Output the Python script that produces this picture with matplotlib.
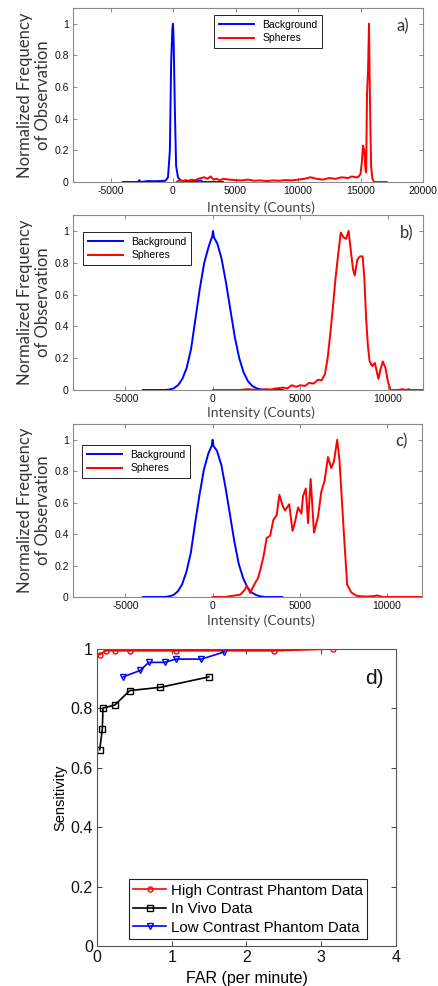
import matplotlib
matplotlib.use("Agg")
import matplotlib.pyplot as plt

# ---------------- data ----------------
# Panel a
bg_a_x = [-4000, -2800, -2700, -2600, -2200, -2000, -1500, -1000, -600, -400, -250, -150, -50, 0,
          50, 150, 250, 400, 600, 1000, 1500, 2000, 2200, 2400, 3000, 4000]
bg_a_y = [0, 0, 0.012, 0, 0.004, 0.006, 0.005, 0.006, 0.008, 0.03, 0.2, 0.75, 0.97, 1.0,
          0.9, 0.45, 0.1, 0.03, 0.01, 0.004, 0.003, 0.006, 0.01, 0, 0, 0]
sp_a_x = [300, 500, 750, 1000, 1250, 1500, 1750, 2000, 2250, 2500, 2750, 3000, 3250, 3500, 3750,
          4000, 4500, 5000, 5500, 6000, 6500, 7000, 7500, 8000, 8500, 9000, 9500, 10000, 10500,
          11000, 11500, 12000, 12500, 13000, 13500, 14000, 14300, 14600, 14800, 15000, 15100,
          15200, 15300, 15400, 15450, 15520, 15600, 15680, 15760, 15850, 15950, 16100, 17100]
sp_a_y = [0, 0.01, 0.005, 0.012, 0.008, 0.015, 0.01, 0.02, 0.025, 0.03, 0.02, 0.035, 0.015, 0.02,
          0.01, 0.02, 0.015, 0.012, 0.01, 0.015, 0.008, 0.01, 0.006, 0.01, 0.008, 0.012, 0.01,
          0.015, 0.02, 0.03, 0.02, 0.015, 0.025, 0.02, 0.03, 0.025, 0.035, 0.03, 0.03, 0.05, 0.12,
          0.23, 0.2, 0.08, 0.06, 0.55, 0.7, 1.0, 0.5, 0.1, 0.02, 0, 0]

# Panel b
bg_b_x = [-4000, -2750, -2500, -2250, -2000, -1750, -1500, -1250, -1000, -750, -500, -250, -100,
          -50, 0, 50, 250, 500, 750, 1000, 1250, 1500, 1750, 2000, 2250, 2500, 2750, 3000, 4000]
bg_b_y = [0, 0, 0.003, 0.01, 0.03, 0.07, 0.14, 0.26, 0.45, 0.64, 0.8, 0.9, 0.95,
          0.96, 1.0, 0.96, 0.92, 0.82, 0.67, 0.5, 0.33, 0.2, 0.11, 0.055, 0.025, 0.01, 0.003, 0, 0]
sp_b_x = [0, 1500, 2000, 2500, 3000, 3300, 3600, 4000, 4250, 4500, 4750, 5000, 5250, 5500, 5750,
          6000, 6200, 6400, 6550, 6700, 6850, 7000, 7150, 7300, 7450, 7600, 7750, 7850, 8000,
          8100, 8250, 8400, 8550, 8650, 8750, 8850, 8950, 9100, 9250, 9350, 9450, 9550, 9700,
          9850, 10000, 10150, 10600, 10800, 11000, 11200, 11300, 12000]
sp_b_y = [0, 0, 0.005, 0, 0.005, 0.003, 0.01, 0.015, 0.01, 0.03, 0.02, 0.03, 0.025, 0.045, 0.04,
          0.065, 0.06, 0.1, 0.2, 0.35, 0.52, 0.7, 0.85, 0.99, 0.96, 0.95, 1.0, 0.9, 0.76,
          0.72, 0.82, 0.84, 0.84, 0.7, 0.45, 0.28, 0.18, 0.15, 0.17, 0.12, 0.07, 0.12, 0.18,
          0.14, 0.05, 0, 0, 0.005, 0, 0.005, 0, 0]

# Panel c
bg_c_x = [-4000, -2750, -2500, -2250, -2000, -1750, -1500, -1250, -1000, -750, -500, -250, -100,
          -50, 0, 50, 250, 500, 750, 1000, 1250, 1500, 1750, 2000, 2250, 2500, 2750, 3000, 4000]
bg_c_y = [0, 0, 0.004, 0.012, 0.035, 0.08, 0.16, 0.28, 0.47, 0.65, 0.81, 0.91, 0.95,
          0.96, 1.0, 0.96, 0.93, 0.84, 0.69, 0.52, 0.35, 0.21, 0.12, 0.06, 0.028, 0.012, 0.004, 0, 0]
sp_c_x = [0, 700, 1000, 1300, 1590, 1800, 1970, 2160, 2300, 2440, 2600, 2730, 2920, 3100, 3300,
          3480, 3670, 3830, 4015, 4150, 4390, 4580, 4710, 4900, 5090, 5180, 5340, 5470, 5620,
          5810, 6040, 6230, 6420, 6610, 6800, 6950, 7140, 7270, 7520, 7710, 7940, 8200, 8410,
          8800, 9170, 9450, 9740, 12000]
sp_c_y = [0, 0, 0.005, 0.01, 0.015, 0.04, 0.07, 0.025, 0.06, 0.09, 0.12, 0.17, 0.26, 0.375, 0.39,
          0.49, 0.52, 0.65, 0.58, 0.55, 0.59, 0.42, 0.47, 0.57, 0.53, 0.64, 0.69, 0.47, 0.75,
          0.41, 0.51, 0.67, 0.74, 0.89, 0.82, 0.86, 1.0, 0.87, 0.41, 0.08, 0.03, 0.01, 0.005,
          0.003, 0.005, 0.01, 0, 0]

# Panel d
high_far = [0.036, 0.116, 0.237, 0.44, 1.06, 2.37, 3.16]
high_sens = [0.981, 0.994, 0.994, 0.994, 0.994, 0.994, 1.0]
vivo_far = [0.036, 0.071, 0.080, 0.237, 0.4375, 0.848, 1.496]
vivo_sens = [0.661, 0.730, 0.801, 0.811, 0.860, 0.871, 0.906]
low_far = [0.348, 0.58, 0.692, 0.906, 1.054, 1.397, 1.70]
low_sens = [0.906, 0.928, 0.955, 0.955, 0.966, 0.966, 0.990]

hist_xticks = [-5000, 0, 5000, 10000, 15000, 20000]
yticks_hist = [0, 0.2, 0.4, 0.6, 0.8, 1]
far_ticks = [0, 1, 2, 3, 4]
sens_ticks = [0, 0.2, 0.4, 0.6, 0.8, 1]
series_labels = ["Background", "Spheres"]
roc_labels = ["High Contrast Phantom Data", "In Vivo Data", "Low Contrast Phantom Data"]

# ---------------- figure ----------------
W, H = 439, 986
fig = plt.figure(figsize=(W / 100, H / 100), dpi=100)

def rect(l, t, r, b):
    return [l / W, (H - b) / H, (r - l) / W, (b - t) / H]

CAL = ["Lato", "DejaVu Sans"]
ARI = ["Liberation Sans", "DejaVu Sans"]
SPINE = "#8a8a8a"
TXT = "#333333"

def fmt(v):
    return "%g" % v

def style(ax, xt, yt, xlim, ylim, fs):
    ax.set_xlim(*xlim)
    ax.set_ylim(*ylim)
    ax.set_xticks(xt)
    ax.set_xticklabels([fmt(v) for v in xt], family=ARI, fontsize=fs)
    ax.set_yticks(yt)
    ax.set_yticklabels([fmt(v) for v in yt], family=ARI, fontsize=fs)
    ax.tick_params(direction="in", top=True, right=True, length=3, width=0.7, color=SPINE,
                   labelcolor="#111111", pad=3)
    for s in ax.spines.values():
        s.set_color(SPINE)
        s.set_linewidth(0.8)

panels = [
    (rect(73, 8, 423, 182), bg_a_x, bg_a_y, sp_a_x, sp_a_y, (-8000, 20000), hist_xticks,
     "a)", (403, 26), (214, 15), 208),
    (rect(73, 215, 423, 390), bg_b_x, bg_b_y, sp_b_x, sp_b_y, (-8000, 12000), hist_xticks[:4],
     "b)", (407, 233), (83, 232), 413),
    (rect(73, 424, 422, 597), bg_c_x, bg_c_y, sp_c_x, sp_c_y, (-8000, 12000), hist_xticks[:4],
     "c)", (401, 441), (82, 445), 621),
]

for (r, bx, by, sx, sy, xl, xt, lab, lpos, legpos, xlab_y) in panels:
    ax = fig.add_axes(r)
    ax.plot(bx, by, color="#0000ff", lw=1.4, label=series_labels[0])
    ax.plot(sx, sy, color="#ff0000", lw=1.4, label=series_labels[1])
    style(ax, xt, yticks_hist, xl, (0, 1.1), 7.5)
    leg = ax.legend(loc="upper left", bbox_to_anchor=(legpos[0] / W, 1 - legpos[1] / H),
                    bbox_transform=fig.transFigure, borderaxespad=0, fancybox=False,
                    framealpha=1, edgecolor="#222222", prop={"family": ARI, "size": 7.5},
                    handlelength=3.4, labelspacing=0.35, borderpad=0.45, handletextpad=0.8)
    leg.get_frame().set_linewidth(0.7)
    fig.text(lpos[0] / W, 1 - lpos[1] / H, lab, ha="center", va="center", family=CAL,
             fontsize=12, color=TXT)
    fig.text(261 / W, 1 - xlab_y / H, "Intensity (Counts)", ha="center", va="center",
             family=CAL, fontsize=10, color="#444444")
    yc = (r[1] + r[3] / 2)
    fig.text(25 / W, yc, "Normalized Frequency", rotation=90, ha="center", va="center",
             family=CAL, fontsize=12, color=TXT)
    fig.text(43 / W, yc, "of Observation", rotation=90, ha="center", va="center",
             family=CAL, fontsize=12, color=TXT)

# Panel d
axd = fig.add_axes(rect(97, 649, 396, 946))
axd.plot(high_far, high_sens, color="#ff0000", lw=1.2, marker="o", ms=3.6, mfc="none",
         mew=1.0, label=roc_labels[0])
axd.plot(vivo_far, vivo_sens, color="#000000", lw=1.2, marker="s", ms=4.5, mfc="none",
         mew=1.0, label=roc_labels[1])
axd.plot(low_far, low_sens, color="#0000ff", lw=1.2, marker="v", ms=5, mfc="none",
         mew=1.0, label=roc_labels[2])
style(axd, far_ticks, sens_ticks, (0, 4), (0, 1), 11.5)
axd.tick_params(color="#444444", length=3.5)
for s in axd.spines.values():
    s.set_color("#555555")
axd.set_xlabel("FAR (per minute)", family=ARI, fontsize=11.5, labelpad=4)
axd.set_ylabel("Sensitivity", family=ARI, fontsize=10.5, labelpad=2)
legd = axd.legend(loc="upper left", bbox_to_anchor=(129 / W, 1 - 879 / H),
                  bbox_transform=fig.transFigure, borderaxespad=0, fancybox=False,
                  framealpha=1, edgecolor="#222222", prop={"family": ARI, "size": 10.8},
                  handlelength=2.2, labelspacing=0.3, borderpad=0.3, handletextpad=0.3)
legd.get_frame().set_linewidth(0.8)
fig.text(374 / W, 1 - 678 / H, "d)", ha="center", va="center", family=ARI, fontsize=15,
         color="#111111")

fig.savefig("out.png", dpi=100)
